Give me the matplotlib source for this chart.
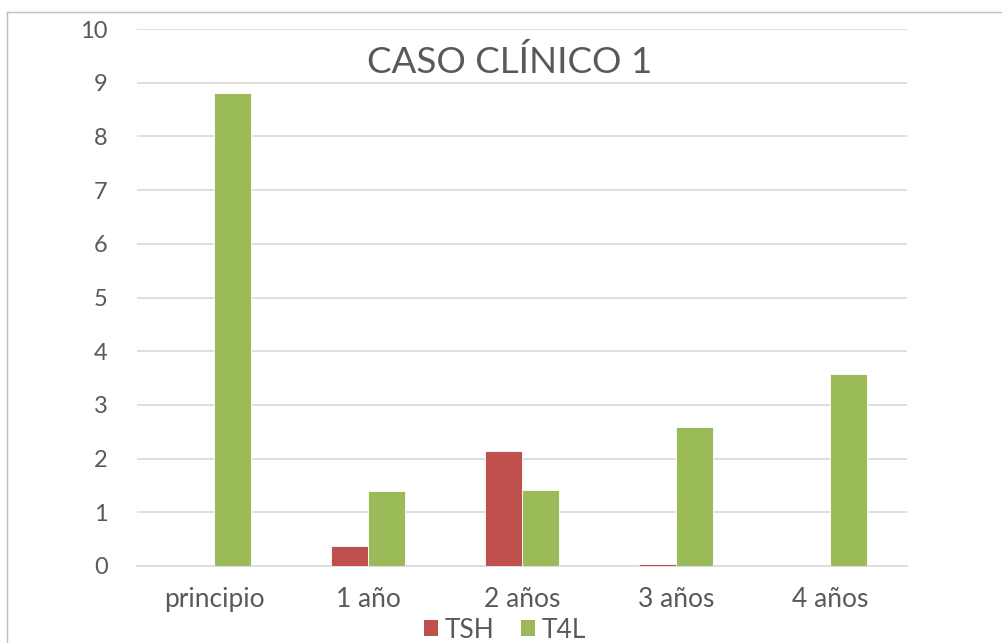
import matplotlib
matplotlib.use("Agg")
import matplotlib.pyplot as plt
from matplotlib.lines import Line2D
from matplotlib.patches import Patch
import numpy as np

categories = ["principio", "1 año", "2 años", "3 años", "4 años"]
tsh = [0.0, 0.38, 2.15, 0.03, 0.0]
t4l = [8.81, 1.39, 1.41, 2.59, 3.58]
series_names = ["TSH", "T4L"]
yticks = list(range(0, 11))
title = "CASO CLÍNICO 1"

RED = "#C0504D"
GREEN = "#9BBB59"
TXT = "#595959"
GRID = "#D9D9D9"
FONT = "Lato"

W, H = 1003, 643
fig = plt.figure(figsize=(W / 100, H / 100), dpi=100)
ax = fig.add_axes([137 / W, 1 - 566 / H, (907 - 137) / W, (566 - 29) / H])

x = np.arange(len(categories))
bw = 1 / (2 + 2.19)
ax.bar(x - bw / 2, tsh, bw, color=RED, edgecolor="white", linewidth=0.6, zorder=3, label=series_names[0])
ax.bar(x + bw / 2, t4l, bw, color=GREEN, edgecolor="white", linewidth=0.6, zorder=3, label=series_names[1])

ax.set_xlim(-0.5, len(categories) - 0.5)
ax.set_ylim(0, 10)
ax.set_yticks(yticks)
ax.set_yticklabels([str(v) for v in yticks])
ax.set_xticks(x)
ax.set_xticklabels(categories)
ax.yaxis.grid(True, color=GRID, linewidth=1.2, zorder=0)
ax.set_axisbelow(True)
for s in ["top", "right", "left"]:
    ax.spines[s].set_visible(False)
ax.spines["bottom"].set_color(GRID)
ax.spines["bottom"].set_linewidth(1.2)
ax.tick_params(axis="both", length=0, colors=TXT)
ax.tick_params(axis="y", pad=21, labelsize=17)
ax.tick_params(axis="x", pad=15, labelsize=19)
for lab in ax.get_xticklabels() + ax.get_yticklabels():
    lab.set_fontfamily(FONT)

fig.text(510 / W, 1 - 62 / H, title, ha="center", va="center",
         fontsize=26.5, color=TXT, fontfamily=FONT)

handles = [Patch(facecolor=RED, edgecolor="none"), Patch(facecolor=GREEN, edgecolor="none")]
leg = fig.legend(handles, series_names, loc="center", bbox_to_anchor=(505 / W, 1 - 630 / H),
                 ncol=2, frameon=False, handlelength=0.55, handleheight=0.55,
                 handletextpad=0.25, columnspacing=1.0, prop={"family": FONT, "size": 19})
for t in leg.get_texts():
    t.set_color(TXT)

# chart border (left and top visible)
fig.add_artist(Line2D([7 / W, 7 / W], [0, 1 - 12 / H], transform=fig.transFigure, color="#BFBFBF", linewidth=1))
fig.add_artist(Line2D([7 / W, 1], [1 - 12 / H, 1 - 12 / H], transform=fig.transFigure, color="#BFBFBF", linewidth=1))

fig.savefig("out.png", dpi=100, facecolor="white")
